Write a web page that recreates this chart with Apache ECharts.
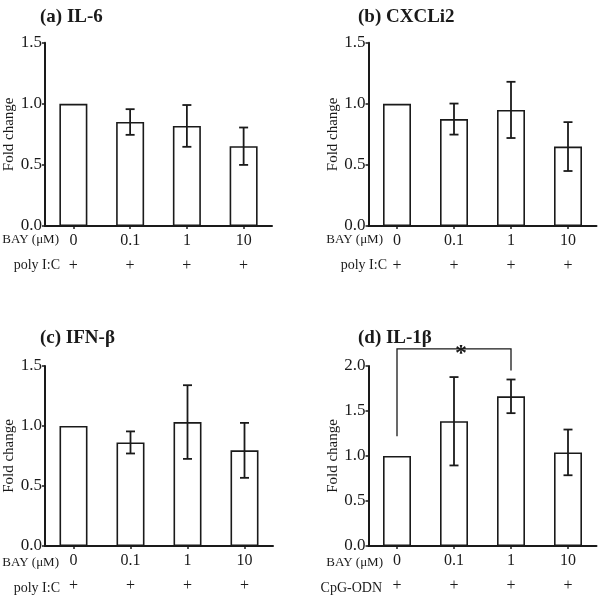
<!DOCTYPE html>
<html>
<head>
<meta charset="utf-8">
<script src="https://cdn.jsdelivr.net/npm/echarts@6/dist/echarts.min.js"></script>
<style>html,body{margin:0;padding:0;background:#fff}#c{width:600px;height:598px}</style>
</head>
<body>
<div id="c"></div>
<script>
// ---- data ----
const categories = ['0', '0.1', '1', '10'];
const stimPlus = ['+', '+', '+', '+'];
const panelTitles = ['(a) IL-6', '(b) CXCLi2', '(c) IFN-\u03b2', '(d) IL-1\u03b2'];
const stimNames = ['poly I:C', 'poly I:C', 'poly I:C', 'CpG-ODN'];
const doseName = 'BAY (\u03bcM)';
const yAxisName = 'Fold change';
const yMax = [1.5, 1.5, 1.5, 2.0];
const yInterval = 0.5;

const meanA = [1, 0.851, 0.819, 0.653];
const errA = [0, 0.105, 0.171, 0.153];
const meanB = [1, 0.875, 0.95, 0.65];
const errB = [0, 0.127, 0.23, 0.2];
const meanC = [1, 0.863, 1.033, 0.797];
const errC = [0, 0.092, 0.307, 0.229];
const meanD = [1, 1.386, 1.663, 1.04];
const errD = [0, 0.491, 0.187, 0.254];

// significance bracket in panel (d): [category index, value]
const bracketD = [[0, 1.22], [0, 2.19], [2, 2.19], [2, 1.95]];
const starD = { x: 1, y: 2.2, text: '*' };

// ---- layout ----
const means = [meanA, meanB, meanC, meanD];
const errs = [errA, errB, errC, errD];
const grids = [
  { left: 45, top: 42.7, width: 227, height: 183.3 },
  { left: 368.5, top: 42.7, width: 228, height: 183.3 },
  { left: 45, top: 366, width: 228, height: 183.3 },
  { left: 368.5, top: 366, width: 228, height: 183.3 }
];
const FONT = 'Liberation Serif';
const INK = '#1a1a1a';

const option = {
  backgroundColor: '#fff',
  animation: false,
  grid: grids,
  title: panelTitles.map((t, i) => ({
    text: t,
    left: i % 2 === 0 ? 35 : 353,
    top: i < 2 ? 3 : 324,
    textStyle: { fontFamily: FONT, fontWeight: 'bold', fontSize: 19, color: INK }
  })),
  xAxis: grids.map((g, i) => ({
    type: 'category',
    gridIndex: i,
    data: categories,
    axisLine: { lineStyle: { color: INK, width: 2 } },
    axisTick: { show: true, alignWithLabel: true, length: 3, lineStyle: { color: INK, width: 1.5 } },
    axisLabel: {
      margin: 2,
      fontFamily: FONT,
      fontSize: 16,
      color: INK,
      lineHeight: 25,
      formatter: (v, idx) => v + '\n' + stimPlus[idx]
    }
  })),
  yAxis: grids.map((g, i) => ({
    type: 'value',
    gridIndex: i,
    min: 0,
    max: yMax[i],
    interval: yInterval,
    name: yAxisName,
    nameLocation: 'middle',
    nameGap: 26,
    nameTextStyle: { fontFamily: FONT, fontSize: 15, color: INK },
    splitLine: { show: false },
    axisLine: { show: true, lineStyle: { color: INK, width: 2 } },
    axisTick: { show: true, length: 3, lineStyle: { color: INK, width: 1.5 } },
    axisLabel: {
      margin: 3,
      fontFamily: FONT,
      fontSize: 17,
      color: INK,
      formatter: v => v.toFixed(1)
    }
  })),
  series: [],
  graphic: []
};

means.forEach((m, i) => {
  option.series.push({
    type: 'bar',
    xAxisIndex: i,
    yAxisIndex: i,
    data: m,
    barWidth: 28,
    itemStyle: { color: '#fff', borderColor: INK, borderWidth: 1.6 }
  });
  const e = errs[i];
  const ebData = m.map((v, k) => [k, v - e[k], v + e[k]]).filter((d, k) => e[k] > 0);
  option.series.push({
    type: 'custom',
    xAxisIndex: i,
    yAxisIndex: i,
    data: ebData,
    z: 5,
    renderItem: function (params, api) {
      const x = api.value(0);
      const lo = api.coord([x, api.value(1)]);
      const hi = api.coord([x, api.value(2)]);
      const hw = 4.5;
      const st = { stroke: INK, lineWidth: 1.8 };
      return {
        type: 'group',
        children: [
          { type: 'line', shape: { x1: lo[0], y1: lo[1], x2: hi[0], y2: hi[1] }, style: st },
          { type: 'line', shape: { x1: hi[0] - hw, y1: hi[1], x2: hi[0] + hw, y2: hi[1] }, style: st },
          { type: 'line', shape: { x1: lo[0] - hw, y1: lo[1], x2: lo[0] + hw, y2: lo[1] }, style: st }
        ]
      };
    }
  });
});

// significance bracket and star in panel (d)
option.series.push({
  type: 'custom',
  xAxisIndex: 3,
  yAxisIndex: 3,
  data: [[0]],
  z: 6,
  clip: false,
  renderItem: function (params, api) {
    const pts = bracketD.map(p => api.coord(p));
    const sp = api.coord([starD.x, starD.y]);
    return {
      type: 'group',
      children: [
        { type: 'polyline', shape: { points: pts }, style: { stroke: INK, lineWidth: 1.3, fill: null } },
        { type: 'text', x: sp[0] + 7, y: sp[1] + 6,
          style: { text: starD.text, fontFamily: FONT, fontSize: 24, fontWeight: 'bold', fill: INK, align: 'center', verticalAlign: 'middle' } }
      ]
    };
  }
});

// row labels (dose and stimulus)
const rowPos = [
  { bx: 59, by: 240, sx: 60, sy: 265 },
  { bx: 383, by: 240, sx: 387, sy: 265 },
  { bx: 59, by: 563, sx: 60, sy: 588 },
  { bx: 383, by: 563, sx: 382, sy: 588 }
];
rowPos.forEach((p, i) => {
  option.graphic.push({
    type: 'text', x: p.bx, y: p.by,
    style: { text: doseName, fontFamily: FONT, fontSize: 13, fill: INK, align: 'right', verticalAlign: 'middle' }
  });
  option.graphic.push({
    type: 'text', x: p.sx, y: p.sy,
    style: { text: stimNames[i], fontFamily: FONT, fontSize: 14, fill: INK, align: 'right', verticalAlign: 'middle' }
  });
});

const chart = echarts.init(document.getElementById('c'), null, { renderer: 'canvas' });
chart.setOption(option);
</script>
</body>
</html>
